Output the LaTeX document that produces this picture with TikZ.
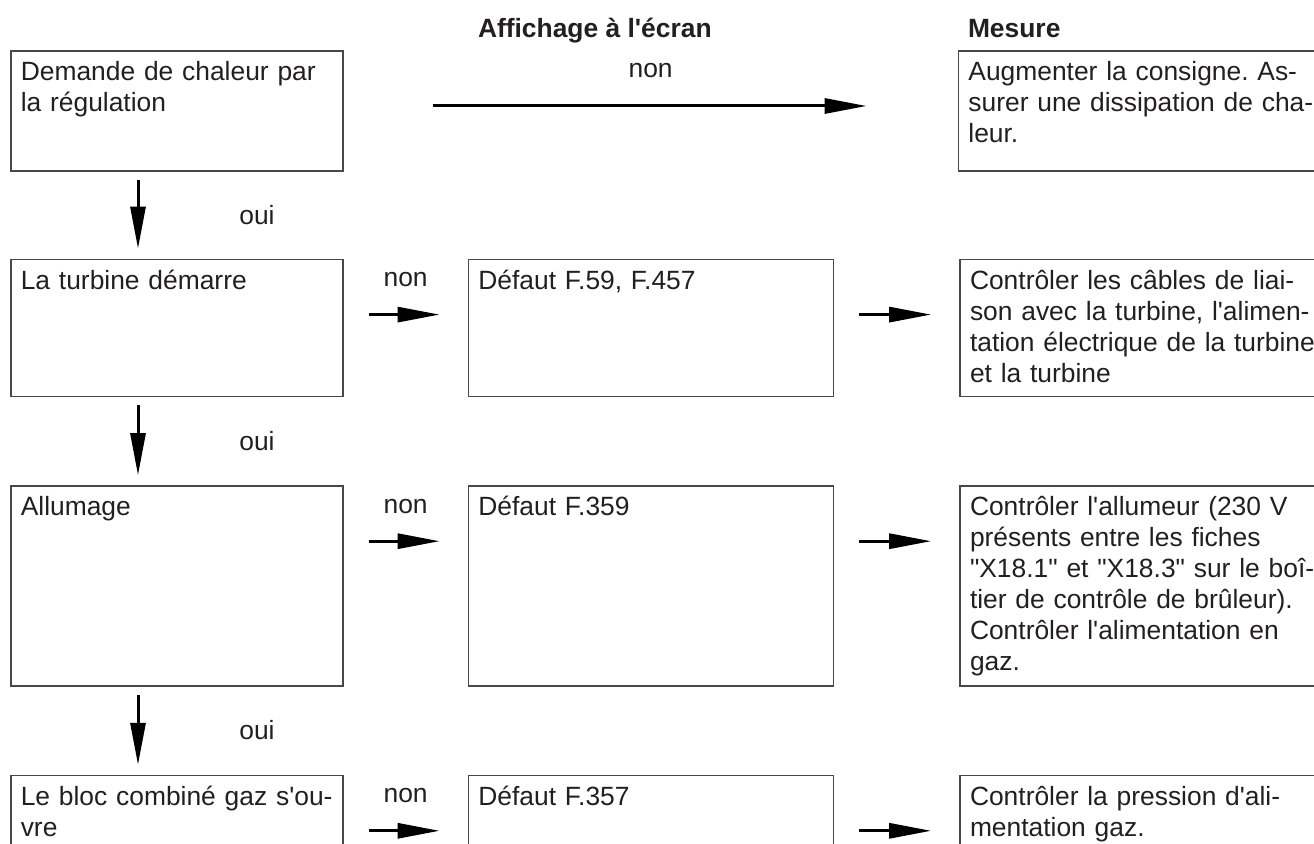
\documentclass[tikz,border=0pt]{standalone}
\usepackage{fontspec}
\setmainfont{Liberation Sans}[Ligatures=TeXOff]
\usepackage{xcolor}
\usepackage{tikz}
\usetikzlibrary{arrows.meta, positioning}
\definecolor{fcink}{RGB}{35,31,32}
\definecolor{fcframe}{RGB}{72,72,72}
\frenchspacing
\tikzset{
  cell/.style    = {rectangle, draw=fcframe, line width=0.8pt, anchor=north west,
                    text=fcink, align=left, font=\fontsize{13.2}{15.5}\selectfont,
                    inner xsep=5pt, inner ysep=4pt, text height=11pt, text depth=#1},
  query/.style   = {cell=#1, text width=156pt},
  fault/.style   = {cell=#1, text width=172.5pt},
  remedy/.style  = {cell=#1, text width=172.5pt},
  head/.style    = {anchor=base west, inner sep=0pt, text=fcink,
                    font=\fontsize{13.2}{15.5}\selectfont\bfseries},
  flow/.style    = {-{Triangle[length=21pt, width=7.5pt]}, line width=1.5pt, draw=black},
  hop/.style     = {flow, shorten <=12.5pt, shorten >=14pt},
  drop/.style    = {flow, shorten <=4pt, shorten >=5pt},
  flowlab/.style = {anchor=base, inner sep=0pt, text=fcink,
                    font=\fontsize{13.2}{15.5}\selectfont},
  nolab/.style   = {flowlab, midway, yshift=14pt},
  yeslab/.style  = {flowlab, midway, xshift=59.5pt, yshift=-4.5pt},
}

\begin{document}
\begin{tikzpicture}[x=0.5pt, y=0.5pt]
  \useasboundingbox (0,0) rectangle (1314,-844);
  \clip (0,0) rectangle (1314,-844);
  % rangee 1
  \node[query=41pt] (q1) at (10,-50) {Demande de chaleur par\\la régulation};
  \node[remedy=41pt, right=307pt of q1] (r1) {Augmenter la consigne. As-\\surer une dissipation de cha-\\leur.};
  % rangee 2
  \node[query=49.5pt, below=43.5pt of q1] (q2) {La turbine démarre};
  \node[fault=49.5pt, right=62pt of q2] (f2) {Défaut F.59, F.457};
  \node[remedy=49.5pt, right=62.5pt of f2] (r2) {Contrôler les câbles de liai-\\son avec la turbine, l'alimen-\\tation électrique de la turbine\\et la turbine};
  % rangee 3
  \node[query=81pt, below=44pt of q2] (q3) {Allumage};
  \node[fault=81pt, right=62pt of q3] (f3) {Défaut F.359};
  \node[remedy=81pt, right=62.5pt of f3] (r3) {Contrôler l'allumeur (230 V\\présents entre les fiches\\"X18.1" et "X18.3" sur le boî-\\tier de contrôle de brûleur).\\Contrôler l'alimentation en\\gaz.};
  % rangee 4
  \node[query=41pt, below=44pt of q3] (q4) {Le bloc combiné gaz s'ou-\\vre};
  \node[fault=41pt, right=62pt of q4] (f4) {Défaut F.357};
  \node[remedy=41pt, right=62.5pt of f4] (r4) {Contrôler la pression d'ali-\\mentation gaz.};
  % titres
  \node[head] (hmes) at ([shift={(5pt,6pt)}]r1.north west) {Mesure};
  \node[head, xshift=5pt] (hdisp) at (f2.west |- hmes.base) {Affichage à l'écran};
  % fleches
  \draw[flow, shorten <=44.5pt, shorten >=45.5pt] ([yshift=-28pt]q1.north east) -- ([yshift=-28pt]r1.north west) node[nolab] {non};
  \foreach \r in {2,3,4} {
    \draw[hop] ([yshift=-28pt]q\r.north east) -- ([yshift=-28pt]f\r.north west) node[nolab] {non};
    \draw[hop] ([yshift=-28pt]f\r.north east) -- ([yshift=-28pt]r\r.north west);
  }
  \foreach \a/\b in {q1/q2, q2/q3, q3/q4}
    \draw[drop] ([xshift=64pt]\a.south west) -- ([xshift=64pt]\b.north west) node[yeslab] {oui};
\end{tikzpicture}
\end{document}
